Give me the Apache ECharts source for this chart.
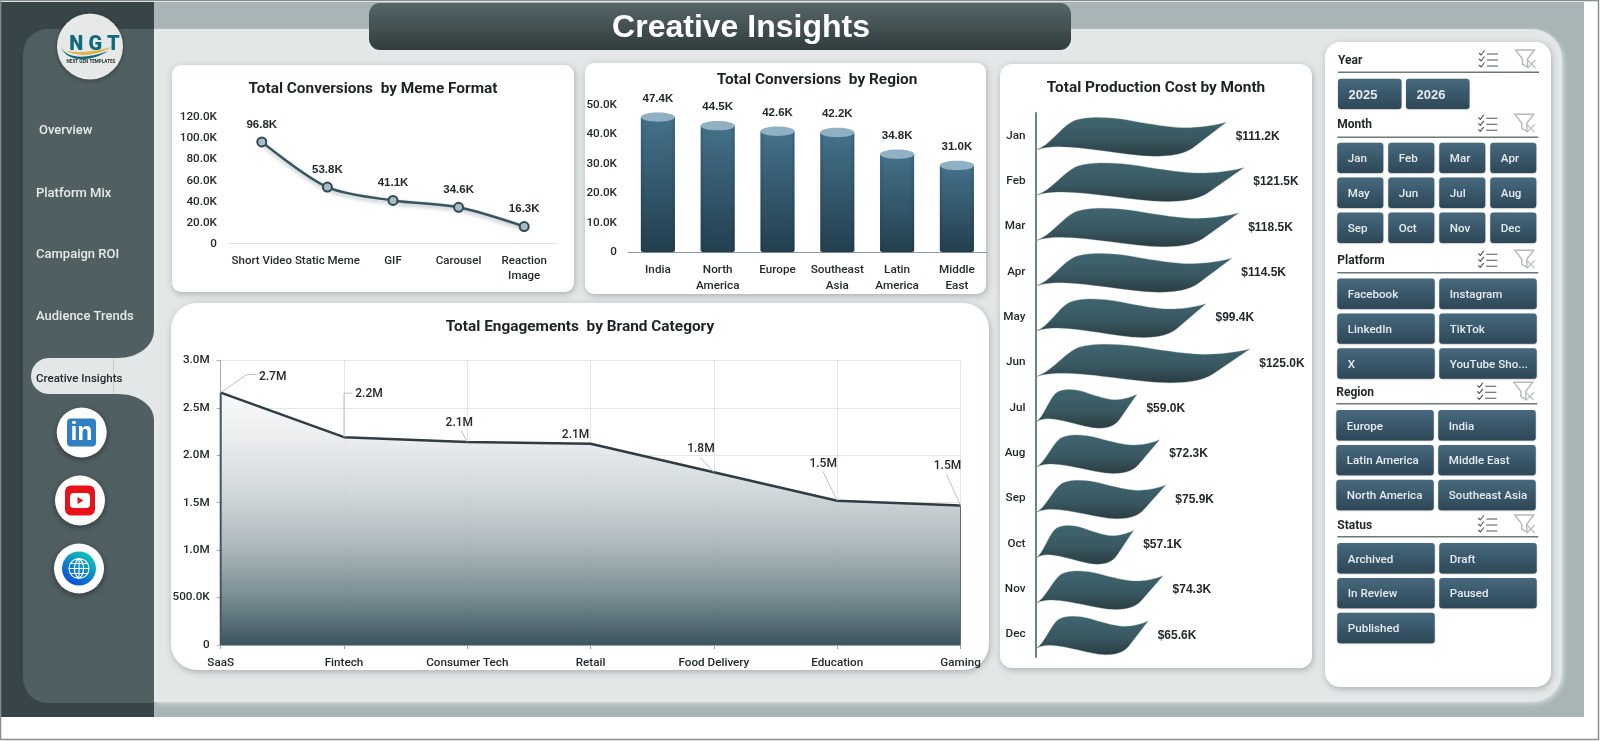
<!DOCTYPE html>
<html>
<head>
<meta charset="utf-8">
<title>Creative Insights</title>
<style>
  html, body { margin: 0; padding: 0; background: #fff; }
  #dashboard { width: 1600px; height: 741px; }
</style>
<script src="https://cdn.jsdelivr.net/npm/echarts@6/dist/echarts.min.js"></script>
</head>
<body>
<div id="dashboard"></div>
<script>
// Chart data
const formatNames = ['Short Video', 'Static Meme', 'GIF', 'Carousel', 'Reaction\nImage'];
const formatConversions = [96.8, 53.8, 41.1, 34.6, 16.3];

const regionNames = ['India', 'North\nAmerica', 'Europe', 'Southeast\nAsia', 'Latin\nAmerica', 'Middle\nEast'];
const regionConversions = [47.4, 44.5, 42.6, 42.2, 34.8, 31.0];

const brandCategories = ['SaaS', 'Fintech', 'Consumer Tech', 'Retail', 'Food Delivery', 'Education', 'Gaming'];
const brandEngagements = [2.66, 2.19, 2.14, 2.12, 1.82, 1.52, 1.47];

const monthNames = ['Jan', 'Feb', 'Mar', 'Apr', 'May', 'Jun', 'Jul', 'Aug', 'Sep', 'Oct', 'Nov', 'Dec'];
const productionCost = [111.2, 121.5, 118.5, 114.5, 99.4, 125.0, 59.0, 72.3, 75.9, 57.1, 74.3, 65.6];

const navItems = ['Overview', 'Platform Mix', 'Campaign ROI', 'Audience Trends'];
const yearOptions = ['2025', '2026'];
const platformOptions = ['Facebook', 'Instagram', 'LinkedIn', 'TikTok', 'X', 'YouTube Sho...'];
const regionOptions = ['Europe', 'India', 'Latin America', 'Middle East', 'North America', 'Southeast Asia'];
const statusOptions = ['Archived', 'Draft', 'In Review', 'Paused', 'Published'];

const UI_FONT = 'Roboto, "Noto Sans", sans-serif';
const NUM_FONT = '"Liberation Sans", Arial, sans-serif';
const INK = '#222a2d';
const PANEL = '#e3e7e8';

const { LinearGradient } = echarts.graphic;
const vGrad = stops => new LinearGradient(0, 0, 0, 1, stops.map(([offset, color]) => ({ offset, color })));

const chart = echarts.init(document.getElementById('dashboard'), null, { renderer: 'canvas', width: 1600, height: 741 });

// ---- Dashboard chrome -------------------------------------------------------
const chrome = [];
const BG_Z = -20;
const rect = (x, y, width, height, fill, r = 0, extra = {}) => chrome.push({
  type: 'rect', z: BG_Z, shape: { x, y, width, height, r },
  style: Object.assign({ fill }, extra)
});
// Canvas middle alignment sits a little high for these fonts, hence the nudge.
const text = (x, y, str, font, fill, align = 'left') => chrome.push({
  type: 'text', z: BG_Z + 5, x, y: y + 1.6,
  style: { text: str, font, fill, align, verticalAlign: 'middle' }
});
// The graphic component takes registered shape classes, so each SVG path gets one.
let pathCount = 0;
const path = (d, style, z = BG_Z + 4) => {
  const shapeName = 'chromePath' + (pathCount++);
  echarts.graphic.registerShape(shapeName, echarts.graphic.extendPath(d));
  chrome.push({ type: shapeName, z, style });
};
const circle = (cx, cy, r, style) => chrome.push({
  type: 'circle', z: BG_Z + 3, shape: { cx, cy, r }, style
});

const cardShadow = { shadowBlur: 7, shadowOffsetX: 1, shadowOffsetY: 2, shadowColor: 'rgba(40,55,60,0.32)' };

rect(154, 2, 1430, 715, '#a8b4b6');
rect(154, 29, 1408, 673, PANEL, [0, 30, 30, 0], { shadowBlur: 5, shadowOffsetX: 2, shadowOffsetY: 2, shadowColor: 'rgba(255,255,255,0.5)' });
rect(1, 2, 153, 715, '#374548');
rect(23, 29, 131, 674, '#505f62', [25, 0, 0, 25]);

// Active navigation tab with its concave shoulders
rect(31, 358, 123, 36, PANEL, [18, 0, 0, 18]);
path('M154,330 C154,346 138,358 118,358 L154,358 Z', { fill: PANEL });
path('M118,394 C138,394 154,405 154,420 L154,394 Z', { fill: PANEL });
path('M113.5,358 L113.5,394', { fill: 'none', stroke: '#c6ccce', lineWidth: 1 });

const navY = [129.5, 191.8, 253, 315];
navItems.forEach((name, i) => text(i === 0 ? 39 : 36, navY[i], name, `500 13px ${UI_FONT}`, '#e6eaea'));
text(36, 378, 'Creative Insights', `500 11.5px ${UI_FONT}`, INK);

// Logo badge
circle(90, 46.5, 33, { fill: '#e7e9e9', shadowBlur: 4, shadowColor: 'rgba(0,0,0,0.35)', shadowOffsetY: 1 });
text(94.5, 43.5, 'N G T', `900 20px ${UI_FONT}`, '#0f6b7c', 'center');
path('M61,47 C66,58 84,60 108,51 C90,63 66,62 61,47 Z', { fill: '#0f6b7c' });
path('M64,50 C76,54 92,52 112,47 C94,57 76,57 64,50 Z', { fill: '#e2b24a' });
text(91, 60.5, 'NEXT GEN TEMPLATES', `700 4.6px ${UI_FONT}`, '#2a3335', 'center');

// Social badges
const badge = (cx, cy) => circle(cx, cy, 25, { fill: '#ffffff', shadowBlur: 6, shadowOffsetY: 2, shadowColor: 'rgba(0,0,0,0.4)' });
badge(81.7, 432.5);
chrome.push({ type: 'rect', z: BG_Z + 4, shape: { x: 67, y: 418.5, width: 29, height: 28, r: 4 }, style: { fill: '#2f7fc1' } });
text(81.5, 431.5, 'in', `700 25px ${NUM_FONT}`, '#ffffff', 'center');
badge(80, 500.5);
chrome.push({ type: 'rect', z: BG_Z + 4, shape: { x: 65, y: 485.5, width: 30, height: 30, r: 6 }, style: { fill: '#e8121c' } });
chrome.push({ type: 'rect', z: BG_Z + 5, shape: { x: 70, y: 493, width: 20, height: 15, r: 4 }, style: { fill: '#ffffff' } });
path('M77.5,497 L83.5,500.5 L77.5,504 Z', { fill: '#e8121c' }, BG_Z + 6);
badge(79, 568.5);
circle(79, 568.5, 17, { fill: new LinearGradient(0.8, 0, 0.2, 1, [{ offset: 0, color: '#14cbb2' }, { offset: 1, color: '#0a46dc' }]) });
path('M69,568.5 a10,10 0 1,0 20,0 a10,10 0 1,0 -20,0 M69,568.5 L89,568.5 M70.5,563.5 L87.5,563.5 M70.5,573.5 L87.5,573.5 M79,558.5 L79,578.5 M79,558.5 C73,563 73,574 79,578.5 M79,558.5 C85,563 85,574 79,578.5',
  { fill: 'none', stroke: '#ffffff', lineWidth: 1.1 }, BG_Z + 5);

// Page heading
rect(369, 3, 702, 47, vGrad([[0, '#566668'], [1, '#303c3e']]), 11);
text(741, 27, 'Creative Insights', `700 32px ${NUM_FONT}`, '#ffffff', 'center');

// Chart cards
rect(172, 65, 402, 227, '#fff', 9, cardShadow);
rect(585, 63, 401, 231, '#fff', 9, cardShadow);
rect(171, 303, 818, 367, '#fff', 26, cardShadow);
rect(1000, 64, 312, 604, '#fff', 12, cardShadow);
rect(1325, 42, 226, 645, '#fff', 15, cardShadow);

// ---- Slicer panel -----------------------------------------------------------
const CHECKLIST = (x, y) => `M${x},${y - 6} l2,2 l3.5,-4.5 M${x},${y} l2,2 l3.5,-4.5 M${x},${y + 6} l2,2 l3.5,-4.5 M${x + 8},${y - 5} h11 M${x + 8},${y + 1} h11 M${x + 8},${y + 7} h11`;
const FUNNEL = (x, y) => `M${x},${y - 9} h19 l-7,9 v8 l-5,-3 v-5 Z`;
const FUNNEL_X = (x, y) => `M${x + 12},${y + 1} l8,8 M${x + 20},${y + 1} l-8,8`;

const slicers = [
  { title: 'Year', items: yearOptions, cols: 2, x: 1338, titleY: 59, lineY: 72.3, btnY: 78.7, w: 63.5, step: 68, font: `700 13px ${NUM_FONT}` },
  { title: 'Month', items: monthNames, cols: 4, x: 1337.3, titleY: 123.3, lineY: 137.3, btnY: 142.7, w: 46, step: 51 },
  { title: 'Platform', items: platformOptions, cols: 2, x: 1337.3, titleY: 259.3, lineY: 272.7, btnY: 278.5, w: 97.4, step: 102 },
  { title: 'Region', items: regionOptions, cols: 2, x: 1336.3, titleY: 391.3, lineY: 403.7, btnY: 410, w: 97.4, step: 102 },
  { title: 'Status', items: statusOptions, cols: 2, x: 1337.3, titleY: 524, lineY: 536.7, btnY: 543, w: 97.4, step: 102 }
];
slicers.forEach(s => {
  text(s.x, s.titleY, s.title, `700 12px ${UI_FONT}`, '#1e2628');
  chrome.push({ type: 'rect', z: BG_Z + 3, shape: { x: s.x, y: s.lineY - 0.75, width: 201, height: 1.5 }, style: { fill: '#6d787b' } });
  const dx = s.x - 1338;
  path(CHECKLIST(1479 + dx, s.titleY), { fill: 'none', stroke: '#4b5558', lineWidth: 1.1 });
  path(FUNNEL(1515.5 + dx, s.titleY), { fill: 'none', stroke: '#b4babc', lineWidth: 1.4 });
  path(FUNNEL_X(1515.5 + dx, s.titleY), { fill: 'none', stroke: '#b4babc', lineWidth: 1.1 });
  s.items.forEach((item, i) => {
    const col = i % s.cols;
    const row = Math.floor(i / s.cols);
    const x = s.x + col * s.step;
    const y = s.btnY + row * 34.9;
    rect(x, y, s.w, 30.4, vGrad([[0, '#47697e'], [1, '#2d4757']]), 3, { shadowBlur: 1.5, shadowOffsetY: 0.5, shadowColor: 'rgba(0,0,0,0.35)' });
    text(x + 10.5, y + 15, item, s.font || `500 11.6px ${UI_FONT}`, '#e6ecef');
  });
});

// Page frame
chrome.push({ type: 'rect', z: 50, shape: { x: 0.5, y: 0.5, width: 1598, height: 739 }, style: { fill: 'none', stroke: '#868e90', lineWidth: 1.5 } });

// ---- Axis helpers -----------------------------------------------------------
const axisLabel = (extra = {}) => Object.assign({ color: INK, fontFamily: UI_FONT, fontWeight: 500, fontSize: 11.7 }, extra);
const kTick = v => (v === 0 ? '0' : v.toFixed(1) + 'K');
const mTick = v => (v === 0 ? '0' : v >= 1 ? v.toFixed(1) + 'M' : (v * 1000).toFixed(1) + 'K');
// Extra top padding centres the digits on their tick
const CENTRE_ON_TICK = [5, 0, 0, 0];

const chartTitle = (str, x, top, size = 15.4) => ({
  text: str, left: x, top, textAlign: 'center', z: 4,
  textStyle: { color: '#1c2426', fontFamily: UI_FONT, fontWeight: 700, fontSize: size }
});

// ---- Custom marks -----------------------------------------------------------
// Cylinder: the value reaches the upper rim of the top ellipse.
function renderCylinder(params, api) {
  const i = api.value(0);
  const [cx, top] = api.coord([i, api.value(1)]);
  const base = api.coord([i, 0])[1];
  const halfW = api.size([1, 0])[0] * 0.285;
  const ry = 4.7;
  const rimY = top + ry;
  const body = `M${cx - halfW},${rimY} L${cx - halfW},${base - 2} Q${cx - halfW},${base} ${cx - halfW + 5},${base} L${cx + halfW - 5},${base} Q${cx + halfW},${base} ${cx + halfW},${base - 2} L${cx + halfW},${rimY} Z`;
  return {
    type: 'group',
    children: [
      { type: 'path', shape: { pathData: body }, style: { fill: vGrad([[0, '#44718a'], [1, '#233f4f']]) } },
      { type: 'path', shape: { pathData: body }, style: { fill: new LinearGradient(0, 0, 1, 0, [
        { offset: 0, color: 'rgba(12,30,40,0.18)' }, { offset: 0.12, color: 'rgba(12,30,40,0)' },
        { offset: 0.88, color: 'rgba(12,30,40,0)' }, { offset: 1, color: 'rgba(12,30,40,0.18)' }]) } },
      { type: 'ellipse', shape: { cx, cy: rimY, rx: halfW, ry }, style: { fill: '#90b0c3' } },
      { type: 'text', x: cx, y: top - 14, style: { text: api.value(1).toFixed(1) + 'K', font: `700 11.5px ${NUM_FONT}`, fill: INK, align: 'center', verticalAlign: 'middle' } }
    ]
  };
}

// Ribbon bar: width comes from the value, thickness stays constant.
function renderWave(params, api) {
  const v = api.value(0);
  const idx = api.value(1);
  const [x0, yc] = api.coord([0, idx]);
  const x1 = api.coord([v, idx])[0];
  const w = x1 - x0;
  const X = u => (x0 + u * w).toFixed(2);
  const Y = d => (yc + d).toFixed(2);
  const P = (u, d) => `${X(u)},${Y(d)}`;
  const d = [
    `M${P(0, 14.3)}`,
    `C${P(0.07, 10)} ${P(0.13, -8)} ${P(0.19, -14)}`,
    `C${P(0.25, -19.5)} ${P(0.38, -19)} ${P(0.5, -15)}`,
    `C${P(0.62, -11)} ${P(0.72, -7.5)} ${P(0.81, -8)}`,
    `C${P(0.88, -8.5)} ${P(0.95, -10.5)} ${P(1, -13.3)}`,
    `L${P(0.84, 10)}`,
    `C${P(0.8, 16)} ${P(0.75, 20.5)} ${P(0.62, 20.5)}`,
    `C${P(0.45, 20)} ${P(0.22, 8.5)} ${P(0.07, 11.5)}`,
    `C${P(0.04, 12)} ${P(0.02, 13)} ${P(0, 14.3)} Z`
  ].join(' ');
  return {
    type: 'group',
    children: [
      { type: 'path', shape: { pathData: d }, style: { fill: vGrad([[0, '#3f656f'], [0.55, '#395861'], [1, '#2b3c42']]), stroke: 'rgba(120,150,158,0.55)', lineWidth: 0.6 } },
      { type: 'text', x: x1 + 9.5, y: yc + 1, style: { text: '$' + v.toFixed(1) + 'K', font: `700 12px ${NUM_FONT}`, fill: INK, align: 'left', verticalAlign: 'middle' } }
    ]
  };
}

// Offsets of each value label from its point, and the elbow of its leader line.
const leaderShapes = [
  { label: [52, -16], via: [[26, -18], [36, -18]] },
  { label: [25, -43], via: [[0, -44], [8, -44]] },
  { label: [-8, -19], via: [[-6, -11]] },
  { label: [-15, -9], via: [] },
  { label: [-13, -23], via: [[-14, -15]] },
  { label: [-14, -37], via: [[-14, -29]] },
  { label: [-13, -39], via: [[-14, -31]] }
];
function renderLeader(params, api) {
  const i = api.value(0);
  const v = api.value(1);
  const [x, y] = api.coord([i, v]);
  const base = api.coord([i, 0])[1];
  const shape = leaderShapes[i];
  const children = [];
  if (shape.via.length) {
    const points = [[x, y]].concat(shape.via.map(([dx, dy]) => [x + dx, y + dy]));
    children.push({ type: 'polyline', shape: { points }, style: { fill: 'none', stroke: '#bcc2c5', lineWidth: 1 } });
  }
  // Darker edges closing the filled area at both ends
  if (i === 0) children.push({ type: 'line', shape: { x1: x, y1: y, x2: x, y2: base }, style: { stroke: '#46555e', lineWidth: 2 } });
  if (i === brandEngagements.length - 1) children.push({ type: 'line', shape: { x1: x, y1: y, x2: x, y2: base }, style: { stroke: '#5d6d75', lineWidth: 1 } });
  children.push({ type: 'text', x: x + shape.label[0], y: y + shape.label[1], style: {
    text: v.toFixed(1) + 'M', font: `500 12px ${UI_FONT}`, fill: INK, align: 'center', verticalAlign: 'middle'
  } });
  return { type: 'group', children };
}

// ---- Chart option -----------------------------------------------------------
const option = {
  animation: false,
  backgroundColor: '#ffffff',
  graphic: { elements: chrome },
  title: [
    chartTitle('Total Conversions  by Meme Format', 368, 77),
    chartTitle('Total Conversions  by Region', 812, 68),
    chartTitle('Total Engagements  by Brand Category', 575, 315),
    chartTitle('Total Production Cost by Month', 1151, 76)
  ],
  grid: [
    { left: 229, top: 117.5, width: 328, height: 126.2 },
    { left: 628, top: 104.7, width: 358.8, height: 147.6 },
    { left: 220.7, top: 360.3, width: 739.8, height: 284.7 },
    { left: 1036, top: 113, width: 239.4, height: 544 }
  ],
  xAxis: [
    {
      gridIndex: 0, type: 'category', data: formatNames, z: 3,
      axisLine: { lineStyle: { color: '#dfe2e3', width: 1 } }, axisTick: { show: false },
      axisLabel: axisLabel({ margin: 10, lineHeight: 15, interval: 0, fontSize: 11.5 })
    },
    {
      gridIndex: 1, type: 'category', data: regionNames, z: 3,
      axisLine: { lineStyle: { color: '#8d9aa0', width: 1.2 } }, axisTick: { show: false },
      axisLabel: axisLabel({ margin: 10.5, lineHeight: 15.5, interval: 0 })
    },
    {
      gridIndex: 2, type: 'category', data: brandCategories, boundaryGap: false, z: 3,
      axisLine: { lineStyle: { color: '#9a9fa8', width: 1 } },
      axisTick: { length: 4, lineStyle: { color: '#9a9fa8' } },
      splitLine: { show: true, lineStyle: { color: '#e3e5e8', width: 1 } },
      axisLabel: axisLabel({ margin: 12, interval: 0 })
    },
    {
      gridIndex: 3, type: 'value', min: 0, max: 140, z: 3, show: false
    }
  ],
  yAxis: [
    {
      gridIndex: 0, type: 'value', min: 0, max: 120, interval: 20, z: 3,
      axisLine: { show: false }, axisTick: { show: false }, splitLine: { show: false },
      axisLabel: axisLabel({ margin: 12, padding: CENTRE_ON_TICK, formatter: kTick })
    },
    {
      gridIndex: 1, type: 'value', min: 0, max: 50, interval: 10, z: 3,
      axisLine: { show: false }, axisTick: { show: false }, splitLine: { show: false },
      axisLabel: axisLabel({ margin: 11, padding: CENTRE_ON_TICK, formatter: kTick })
    },
    {
      gridIndex: 2, type: 'value', min: 0, max: 3, interval: 0.5, z: 3,
      axisLine: { show: true, lineStyle: { color: '#a9abb6', width: 1 } },
      axisTick: { show: true, length: 4, lineStyle: { color: '#a9abb6' } },
      splitLine: { show: true, lineStyle: { color: '#e3e5e8', width: 1 } },
      axisLabel: axisLabel({ margin: 11, padding: CENTRE_ON_TICK, formatter: mTick })
    },
    {
      gridIndex: 3, type: 'category', data: monthNames, inverse: true, z: 3,
      axisLine: { lineStyle: { color: '#6d8589', width: 2 } }, axisTick: { show: false },
      axisLabel: axisLabel({ margin: 10.5, padding: CENTRE_ON_TICK })
    }
  ],
  series: [
    {
      name: 'Conversions by format', type: 'line', xAxisIndex: 0, yAxisIndex: 0, z: 5,
      data: formatConversions, smooth: 0.3,
      symbol: 'circle', symbolSize: 9,
      lineStyle: { color: '#38545f', width: 2.5, shadowBlur: 4, shadowOffsetY: 2, shadowColor: 'rgba(40,60,70,0.4)' },
      itemStyle: { color: '#a9bcc2', borderColor: '#2f4a55', borderWidth: 2 },
      label: {
        show: true, position: 'top', distance: 6, color: INK,
        fontFamily: NUM_FONT, fontWeight: 700, fontSize: 11.5,
        formatter: p => p.value.toFixed(1) + 'K'
      }
    },
    {
      name: 'Conversions by region', type: 'custom', xAxisIndex: 1, yAxisIndex: 1, z: 5,
      data: regionConversions.map((v, i) => [i, v]), encode: { x: 0, y: 1 },
      renderItem: renderCylinder
    },
    {
      name: 'Engagements', type: 'line', xAxisIndex: 2, yAxisIndex: 2, z: 5,
      data: brandEngagements, symbol: 'none',
      lineStyle: { color: '#2f3c42', width: 2.5 },
      areaStyle: {
        color: vGrad([
          [0, 'rgba(248,249,249,0.88)'], [0.2, 'rgba(230,233,235,0.88)'], [0.4, 'rgba(202,210,213,0.88)'],
          [0.6, 'rgba(166,178,183,0.9)'], [0.8, 'rgba(112,134,140,0.93)'], [1, 'rgba(60,84,95,1)']
        ]),
        opacity: 1
      }
    },
    {
      name: 'Engagement labels', type: 'custom', xAxisIndex: 2, yAxisIndex: 2, z: 6,
      data: brandEngagements.map((v, i) => [i, v]), encode: { x: 0, y: 1 },
      renderItem: renderLeader
    },
    {
      name: 'Production cost', type: 'custom', xAxisIndex: 3, yAxisIndex: 3, z: 5,
      data: productionCost.map((v, i) => [v, i]), encode: { x: 0, y: 1 },
      renderItem: renderWave
    }
  ]
};

chart.setOption(option);
</script>
</body>
</html>
